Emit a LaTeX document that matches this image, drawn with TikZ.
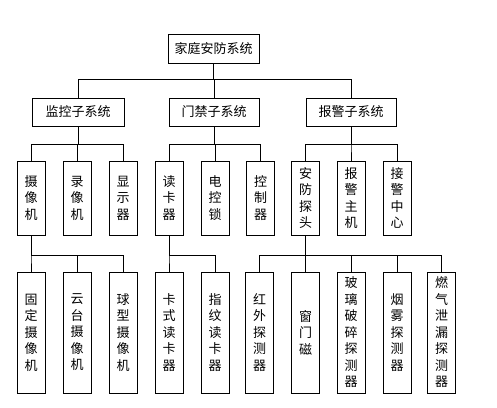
\documentclass[tikz,border=0pt]{standalone}
\usepackage{fontspec}
\newfontfamily\cjk{Noto Sans CJK SC}
\usepackage{tikz}
\usetikzlibrary{calc}
\tikzstyle{box}=[draw,thick,inner sep=0pt,font=\cjk\fontsize{13}{16.5}\selectfont]
\tikzstyle{hbox}=[box,minimum height=28pt]
\tikzstyle{vbox}=[box,minimum width=28pt,align=center]
\tikzstyle{link}=[thick]

\begin{document}
\begin{tikzpicture}[x=1pt,y=-1pt]
		\useasboundingbox (0,0) rectangle (497,407);
		\node[hbox,minimum width=91pt,minimum height=29pt] (sys) at (213.5,48.5) {家庭安防系统};
		\node[hbox,minimum width=92pt] (jk) at (78,112) {监控子系统};
		\node[hbox,minimum width=90pt] (mj) at (214,112) {门禁子系统};
		\node[hbox,minimum width=90pt] (bj) at (351,112) {报警子系统};
		\node[vbox,minimum height=74pt] (sxj) at (31,198) {摄\\像\\机};
		\node[vbox,minimum height=74pt] (lxj) at (77,198) {录\\像\\机};
		\node[vbox,minimum height=74pt] (xsq) at (123,198) {显\\示\\器};
		\node[vbox,minimum height=74pt] (dkq) at (169,198) {读\\卡\\器};
		\node[vbox,minimum height=74pt] (dks) at (215,198) {电\\控\\锁};
		\node[vbox,minimum height=74pt] (kzq) at (260.5,198) {控\\制\\器};
		\node[vbox,minimum height=74pt] (aftt) at (305.5,198) {安\\防\\探\\头};
		\node[vbox,minimum height=74pt] (bjzj) at (351,198) {报\\警\\主\\机};
		\node[vbox,minimum height=74pt] (jjzx) at (397,198) {接\\警\\中\\心};
		\node[vbox,minimum height=121pt] (gd) at (31,332.5) {固\\定\\摄\\像\\机};
		\node[vbox,minimum height=121pt] (yt) at (77,332.5) {云\\台\\摄\\像\\机};
		\node[vbox,minimum height=121pt] (qx) at (123,332.5) {球\\型\\摄\\像\\机};
		\node[vbox,minimum height=121pt] (ks) at (169,332.5) {卡\\式\\读\\卡\\器};
		\node[vbox,minimum height=121pt] (zw) at (215,332.5) {指\\纹\\读\\卡\\器};
		\node[vbox,minimum height=121pt] (hw) at (259.5,332.5) {红\\外\\探\\测\\器};
		\node[vbox,minimum height=121pt] (cmc) at (305.5,332.5) {窗\\门\\磁};
		\node[vbox,minimum height=121pt] (bl) at (351,332.5) {玻\\璃\\破\\碎\\探\\测\\器};
		\node[vbox,minimum height=121pt] (yw) at (397,332.5) {烟\\雾\\探\\测\\器};
		\node[vbox,minimum height=121pt] (rq) at (441.5,332.5) {燃\\气\\泄\\漏\\探\\测\\器};
		\coordinate (bus1) at (0,79);
		\coordinate (bus2) at (0,144);
		\coordinate (bus3) at (0,255.5);
		\foreach \c in {jk,mj,bj}
			\draw[link] (sys.south) -- (sys.south |- bus1) -| (\c.north);
		\foreach \c in {sxj,lxj,xsq}
			\draw[link] (jk.south) -- (jk.south |- bus2) -| (\c.north);
		\foreach \c in {dkq,dks,kzq}
			\draw[link] (mj.south) -- (mj.south |- bus2) -| (\c.north);
		\foreach \c in {aftt,bjzj,jjzx}
			\draw[link] (bj.south) -- (bj.south |- bus2) -| (\c.north);
		\foreach \c in {gd,yt,qx}
			\draw[link] (sxj.south) -- (sxj.south |- bus3) -| (\c.north);
		\foreach \c in {ks,zw}
			\draw[link] (dkq.south) -- (dkq.south |- bus3) -| (\c.north);
		\foreach \c in {hw,cmc,bl,yw,rq}
			\draw[link] (aftt.south) -- (aftt.south |- bus3) -| (\c.north);
	\end{tikzpicture}
\end{document}
